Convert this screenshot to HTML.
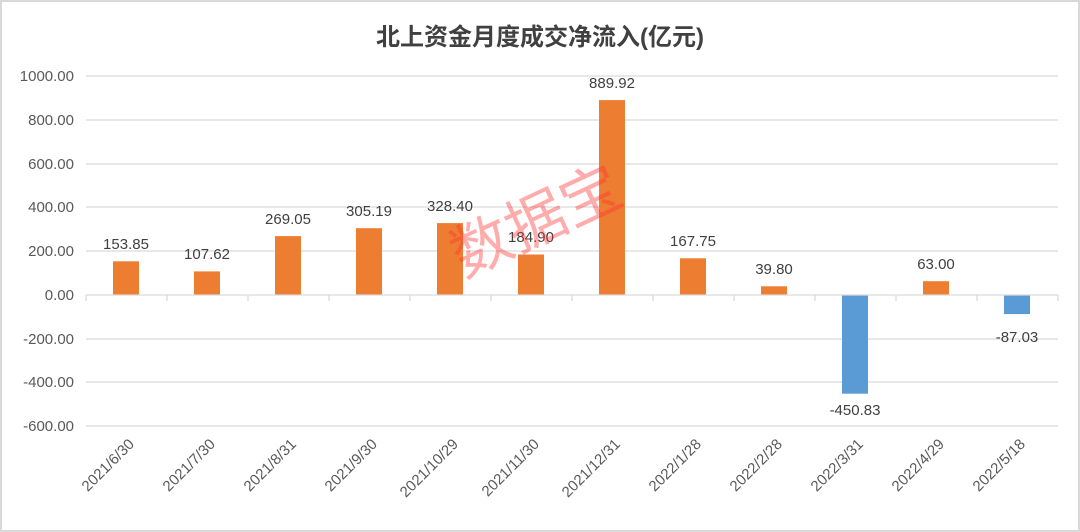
<!DOCTYPE html>
<html><head><meta charset="utf-8"><style>
body{margin:0;background:#fff}
svg{display:block;font-family:"Liberation Sans","Noto Sans CJK SC",sans-serif}
</style></head><body>
<svg width="1080" height="532" viewBox="0 0 1080 532">
<rect x="1" y="1" width="1078" height="530" fill="#fff" stroke="#d9d9d9" stroke-width="2"/>
<text x="540" y="45" text-anchor="middle" font-size="24" font-weight="bold" fill="#404040">北上资金月度成交净流入(亿元)</text>
<g stroke="#d9d9d9" stroke-width="1.3">
<line x1="86" x2="1058" y1="76" y2="76"/><line x1="86" x2="1058" y1="120" y2="120"/>
<line x1="86" x2="1058" y1="164" y2="164"/><line x1="86" x2="1058" y1="207" y2="207"/>
<line x1="86" x2="1058" y1="251" y2="251"/>
<line x1="86" x2="1058" y1="339" y2="339"/><line x1="86" x2="1058" y1="382" y2="382"/>
<line x1="86" x2="1058" y1="426" y2="426"/>
</g>
<g font-size="15" fill="#595959" text-anchor="end">
<text x="74" y="81">1000.00</text><text x="74" y="125">800.00</text><text x="74" y="169">600.00</text>
<text x="74" y="212">400.00</text><text x="74" y="256">200.00</text><text x="74" y="300">0.00</text>
<text x="74" y="344">-200.00</text><text x="74" y="387">-400.00</text><text x="74" y="431">-600.00</text>
</g>
<g fill="#ed7d31">
<rect x="113" y="261.3" width="26" height="33.7"/>
<rect x="194" y="271.4" width="26" height="23.6"/>
<rect x="275" y="236.1" width="26" height="58.9"/>
<rect x="356" y="228.2" width="26" height="66.8"/>
<rect x="437" y="223.1" width="26" height="71.9"/>
<rect x="518" y="254.5" width="26" height="40.5"/>
<rect x="599" y="100.1" width="26" height="194.9"/>
<rect x="680" y="258.3" width="26" height="36.7"/>
<rect x="761" y="286.3" width="26" height="8.7"/>
<rect x="923" y="281.2" width="26" height="13.8"/>
</g>
<g fill="#5b9bd5">
<rect x="842" y="295" width="26" height="98.7"/>
<rect x="1004" y="295" width="26" height="19.1"/>
</g>
<g stroke="#d9d9d9" stroke-width="1.3">
<line x1="86" x2="1058" y1="295" y2="295"/>
<line x1="86" x2="86" y1="295" y2="301"/><line x1="167" x2="167" y1="295" y2="301"/>
<line x1="248" x2="248" y1="295" y2="301"/><line x1="329" x2="329" y1="295" y2="301"/>
<line x1="410" x2="410" y1="295" y2="301"/><line x1="491" x2="491" y1="295" y2="301"/>
<line x1="572" x2="572" y1="295" y2="301"/><line x1="653" x2="653" y1="295" y2="301"/>
<line x1="734" x2="734" y1="295" y2="301"/><line x1="815" x2="815" y1="295" y2="301"/>
<line x1="896" x2="896" y1="295" y2="301"/><line x1="977" x2="977" y1="295" y2="301"/>
<line x1="1058" x2="1058" y1="295" y2="301"/>
</g>
<g font-size="15" fill="#404040" text-anchor="middle">
<text x="126" y="249">153.85</text><text x="207" y="259">107.62</text><text x="288" y="224">269.05</text>
<text x="369" y="216">305.19</text><text x="450" y="211">328.40</text><text x="531" y="242">184.90</text>
<text x="612" y="88">889.92</text><text x="693" y="246">167.75</text><text x="774" y="274">39.80</text>
<text x="855" y="415">-450.83</text><text x="936" y="269">63.00</text><text x="1017" y="342">-87.03</text>
</g>
<g font-size="15" fill="#595959" text-anchor="end">
<text transform="translate(135,445) rotate(-45)">2021/6/30</text>
<text transform="translate(216,445) rotate(-45)">2021/7/30</text>
<text transform="translate(297,445) rotate(-45)">2021/8/31</text>
<text transform="translate(378,445) rotate(-45)">2021/9/30</text>
<text transform="translate(459,445) rotate(-45)">2021/10/29</text>
<text transform="translate(540,445) rotate(-45)">2021/11/30</text>
<text transform="translate(621,445) rotate(-45)">2021/12/31</text>
<text transform="translate(702,445) rotate(-45)">2022/1/28</text>
<text transform="translate(783,445) rotate(-45)">2022/2/28</text>
<text transform="translate(864,445) rotate(-45)">2022/3/31</text>
<text transform="translate(945,445) rotate(-45)">2022/4/29</text>
<text transform="translate(1026,445) rotate(-45)">2022/5/18</text>
</g>
<text transform="translate(545,240) rotate(-25)" text-anchor="middle" font-size="60" fill="#ff3030" fill-opacity="0.4">数据宝</text>
</svg>
</body></html>
